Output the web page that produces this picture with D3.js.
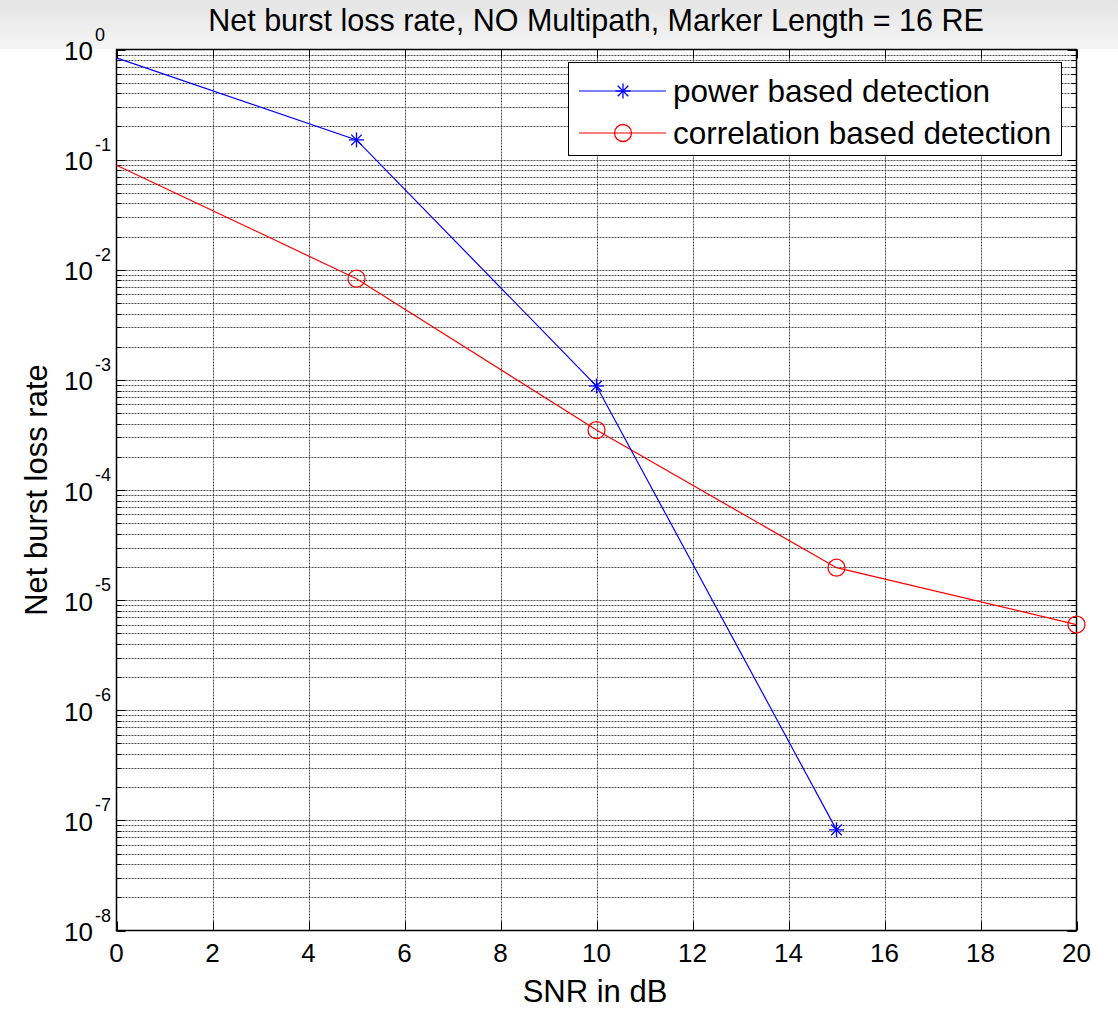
<!DOCTYPE html>
<html lang="en">
    <head>
        <meta charset="utf-8">
        <title>Net burst loss rate</title>
        <style type="text/css">
            body { margin: 0; background: #fff; }
            text { font-family: "Liberation Sans", Arial, sans-serif; fill: #000; }
        </style>
    </head>
    <body>

<script src="https://cdn.jsdelivr.net/npm/d3@7"></script>

<script>

    var w = 1118;
    var h = 1010;

    // data
    var snrPower = [0, 5, 10, 15];
    var power = [0.84, 0.151, 8.8e-4, 8.2e-8];
    var snrCorr = [0, 5, 10, 15, 20];
    var corr = [0.089, 8.3e-3, 3.5e-4, 1.97e-5, 6.0e-6];
    var xTicks = [0, 2, 4, 6, 8, 10, 12, 14, 16, 18, 20];
    var yExps = [0, -1, -2, -3, -4, -5, -6, -7, -8];
    var legendNames = ["power based detection", "correlation based detection"];

    var pLeft = 116.5, pRight = 1076.5, pTop = 49.5, pBottom = 930.5;

    var svg = d3.select("body")
            .append("svg")
            .attr("width", w)
            .attr("height", h);

    // grey title band
    var grad = svg.append("defs").append("linearGradient")
        .attr("id", "band").attr("x1", 0).attr("y1", 0).attr("x2", 0).attr("y2", 1);
    grad.append("stop").attr("offset", "0%").attr("stop-color", "#e4e4e4");
    grad.append("stop").attr("offset", "100%").attr("stop-color", "#f5f5f5");
    svg.append("rect").attr("x", 0).attr("y", 0).attr("width", w).attr("height", 49)
        .attr("fill", "url(#band)");

    var x = d3.scaleLinear().domain([0, 20]).range([pLeft, pRight]);
    var y = d3.scaleLog().domain([1e-8, 1]).range([pBottom, pTop]);

    var grid = svg.append("g")
        .attr("stroke", "#4a4a4a")
        .attr("stroke-dasharray", "2,1");

    //minor + major log grid
    var yGrid = [];
    for (var e = -8; e < 0; e++) {
        for (var m = 1; m < 10; m++) {
            yGrid.push(m * Math.pow(10, e));
        }
    }
    grid.selectAll("line.hy")
        .data(yGrid.slice(1))
        .enter()
        .append("line")
        .attr("x1", pLeft).attr("x2", pRight)
        .attr("y1", function(d) { return Math.round(y(d)) + 0.5; })
        .attr("y2", function(d) { return Math.round(y(d)) + 0.5; });

    grid.selectAll("line.vx")
        .data(xTicks.slice(1, -1))
        .enter()
        .append("line")
        .attr("y1", pTop).attr("y2", pBottom)
        .attr("x1", function(d) { return Math.round(x(d)) + 0.5; })
        .attr("x2", function(d) { return Math.round(x(d)) + 0.5; });

    // ticks on all four sides, inside
    var ticks = svg.append("g").attr("stroke", "#000").attr("stroke-width", 1);
    var yTickVals = yGrid.concat([1]);
    yTickVals.forEach(function(d) {
        var len = (Math.abs(Math.log10(d) - Math.round(Math.log10(d))) < 1e-9) ? 9 : 5;
        var yy = Math.round(y(d)) + 0.5;
        ticks.append("line").attr("x1", pLeft).attr("x2", pLeft + len).attr("y1", yy).attr("y2", yy);
        ticks.append("line").attr("x1", pRight - len).attr("x2", pRight).attr("y1", yy).attr("y2", yy);
    });
    xTicks.forEach(function(d) {
        var xx = Math.round(x(d)) + 0.5;
        ticks.append("line").attr("x1", xx).attr("x2", xx).attr("y1", pBottom).attr("y2", pBottom - 9);
        ticks.append("line").attr("x1", xx).attr("x2", xx).attr("y1", pTop).attr("y2", pTop + 9);
    });

    svg.append("rect")
        .attr("x", pLeft).attr("y", pTop)
        .attr("width", pRight - pLeft).attr("height", pBottom - pTop)
        .attr("fill", "none").attr("stroke", "#000").attr("stroke-width", 1.5);

    // tick labels
    svg.selectAll("text.xt")
        .data(xTicks)
        .enter()
        .append("text")
        .attr("x", function(d) { return x(d); })
        .attr("y", 962)
        .attr("text-anchor", "middle")
        .attr("font-size", 26)
        .text(function(d) { return d; });

    yExps.forEach(function(p) {
        var yy = y(Math.pow(10, p));
        svg.append("text").attr("x", 93).attr("y", yy + 10.5)
            .attr("text-anchor", "end").attr("font-size", 26).text("10");
        svg.append("text").attr("x", 95).attr("y", yy - 9)
            .attr("font-size", 18).text(p);
    });

    // series
    var line = d3.line()
        .x(function(d) { return x(d[0]); })
        .y(function(d) { return y(d[1]); });

    var powerPts = d3.zip(snrPower, power);
    var corrPts = d3.zip(snrCorr, corr);

    svg.append("path").datum(corrPts).attr("d", line)
        .attr("fill", "none").attr("stroke", "#ff0000").attr("stroke-width", 1.2);
    svg.append("path").datum(powerPts).attr("d", line)
        .attr("fill", "none").attr("stroke", "#0000ff").attr("stroke-width", 1.2);

    function star(g, cx, cy) {
        var r = 7.5, k = r * 0.7071;
        var s = g.append("g").attr("stroke", "#0000ff").attr("stroke-width", 1.3);
        s.append("line").attr("x1", cx - r).attr("x2", cx + r).attr("y1", cy).attr("y2", cy);
        s.append("line").attr("x1", cx).attr("x2", cx).attr("y1", cy - r).attr("y2", cy + r);
        s.append("line").attr("x1", cx - k).attr("x2", cx + k).attr("y1", cy - k).attr("y2", cy + k);
        s.append("line").attr("x1", cx - k).attr("x2", cx + k).attr("y1", cy + k).attr("y2", cy - k);
    }

    // the picture shows no markers on the y axis itself
    corrPts.filter(function(d) { return d[0] > 0; }).forEach(function(d) {
        svg.append("circle").attr("cx", x(d[0])).attr("cy", y(d[1])).attr("r", 8.5)
            .attr("fill", "none").attr("stroke", "#ff0000").attr("stroke-width", 1.3);
    });
    powerPts.filter(function(d) { return d[0] > 0; }).forEach(function(d) {
        star(svg, x(d[0]), y(d[1]));
    });

    // legend
    var lg = svg.append("g");
    lg.append("rect").attr("x", 568.5).attr("y", 62.5).attr("width", 493).attr("height", 93)
        .attr("fill", "#fff").attr("stroke", "#000").attr("stroke-width", 1);
    var rows = [91, 133];
    lg.append("line").attr("x1", 579).attr("x2", 666).attr("y1", rows[0]).attr("y2", rows[0])
        .attr("stroke", "#0000ff").attr("stroke-width", 1.2);
    star(lg, 623, rows[0]);
    lg.append("line").attr("x1", 579).attr("x2", 666).attr("y1", rows[1]).attr("y2", rows[1])
        .attr("stroke", "#ff0000").attr("stroke-width", 1.2);
    lg.append("circle").attr("cx", 623).attr("cy", rows[1]).attr("r", 8.5)
        .attr("fill", "none").attr("stroke", "#ff0000").attr("stroke-width", 1.3);
    legendNames.forEach(function(n, i) {
        lg.append("text").attr("x", 673).attr("y", rows[i] + 11).attr("font-size", 31.5).text(n);
    });

    // titles
    svg.append("text").attr("x", 596).attr("y", 31).attr("text-anchor", "middle")
        .attr("font-size", 30.5).text("Net burst loss rate, NO Multipath, Marker Length = 16 RE");
    svg.append("text").attr("x", 595).attr("y", 1002).attr("text-anchor", "middle")
        .attr("font-size", 31).text("SNR in dB");
    svg.append("text").attr("transform", "translate(47,490) rotate(-90)")
        .attr("text-anchor", "middle").attr("font-size", 31).text("Net burst loss rate");

</script>

    </body>
</html>
